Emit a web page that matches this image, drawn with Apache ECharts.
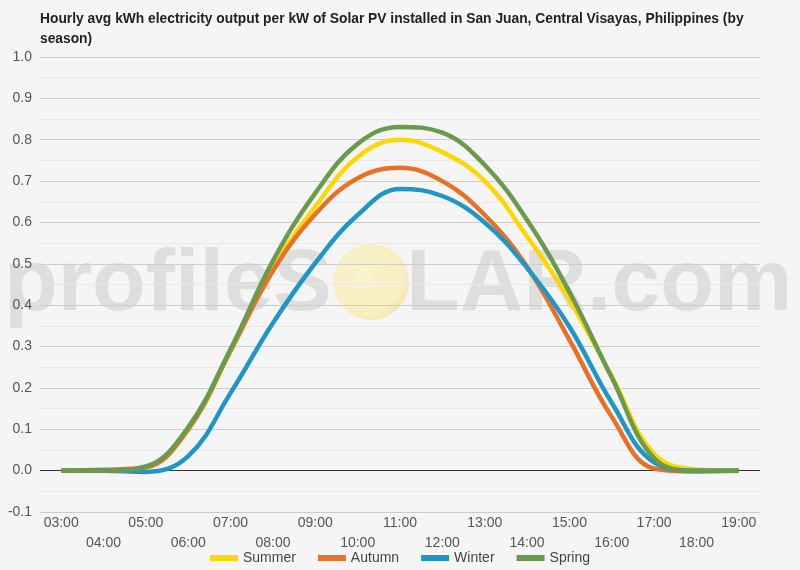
<!DOCTYPE html>
<html>
<head>
<meta charset="utf-8">
<script src="https://cdn.jsdelivr.net/npm/echarts@6/dist/echarts.min.js"></script>
<style>
  html, body { margin: 0; padding: 0; background: #f5f5f5; }
  #chart { width: 800px; height: 570px; }
</style>
</head>
<body>
<div id="chart"></div>
<script>
const hours = ['03:00', '04:00', '05:00', '06:00', '07:00', '08:00', '09:00', '10:00', '11:00',
  '12:00', '13:00', '14:00', '15:00', '16:00', '17:00', '18:00', '19:00']
const summer = [0, 0, 0.008, 0.1, 0.29, 0.49, 0.638, 0.758, 0.8, 0.77, 0.7, 0.566, 0.413, 0.228, 0.04, 0.003, 0]
const autumn = [0, 0.002, 0.008, 0.1, 0.29, 0.483, 0.62, 0.707, 0.732, 0.7, 0.618, 0.493, 0.316, 0.13, 0.005, -0.002, 0]
const winter = [0, 0, -0.003, 0.035, 0.188, 0.357, 0.502, 0.618, 0.681, 0.664, 0.6, 0.49, 0.348, 0.164, 0.02, 0, 0]
const spring = [0, 0, 0.01, 0.105, 0.294, 0.507, 0.671, 0.79, 0.831, 0.817, 0.739, 0.606, 0.432, 0.225, 0.03, 0, 0]
const yTicks = { min: -0.1, max: 1.0, interval: 0.1 }

const chart = echarts.init(document.getElementById('chart'))

const line = (name, data, color) => ({
  name,
  type: 'line',
  data,
  smooth: 0.4,
  symbol: 'none',
  lineStyle: { width: 4.5, color },
  itemStyle: { color }
})

const wmFont = 'bold 88px "Liberation Sans", Arial, sans-serif'

chart.setOption({
  backgroundColor: '#f5f5f5',
  textStyle: { fontFamily: '"Liberation Sans", Arial, sans-serif' },
  title: {
    text: 'Hourly avg kWh electricity output per kW of Solar PV installed in San Juan, Central Visayas, Philippines (by\nseason)',
    left: 35,
    top: 4,
    textStyle: { fontSize: 13.8, fontWeight: 'bold', color: '#222', lineHeight: 20 }
  },
  graphic: [
    {
      type: 'text', left: 4, top: 242, z: -10, silent: true,
      style: { text: 'profileS', font: wmFont, fill: '#dedede' }
    },
    {
      type: 'circle', z: -10, silent: true,
      shape: { cx: 371, cy: 282, r: 38 },
      style: {
        fill: new echarts.graphic.RadialGradient(0.4, 0.4, 0.7, [
          { offset: 0, color: '#f9f3cc' },
          { offset: 0.75, color: '#f8efc0' },
          { offset: 1, color: '#f5dcb0' }
        ])
      }
    },
    {
      type: 'text', left: 406, top: 242, z: -10, silent: true,
      style: { text: 'LAR.com', font: wmFont, fill: '#dedede' }
    }
  ],
  legend: {
    bottom: 5,
    left: 'center',
    padding: 0,
    itemWidth: 28,
    itemHeight: 6,
    itemGap: 22,
    icon: 'rect',
    textStyle: { fontSize: 14, color: '#444' },
    data: ['Summer', 'Autumn', 'Winter', 'Spring']
  },
  grid: { left: 40, right: 40, top: 57, bottom: 58, containLabel: false },
  xAxis: {
    type: 'category',
    data: hours,
    boundaryGap: true,
    axisLine: { show: false },
    axisTick: { show: false },
    axisLabel: {
      interval: 0,
      fontSize: 14,
      color: '#555',
      margin: 1,
      lineHeight: 20,
      formatter: (v, i) => (i % 2 === 1 ? '\n' + v : v)
    }
  },
  yAxis: {
    type: 'value',
    min: yTicks.min,
    max: yTicks.max,
    interval: yTicks.interval,
    axisLine: { show: false },
    axisTick: { show: false },
    axisLabel: { fontSize: 14, color: '#555', margin: 8, formatter: v => v.toFixed(1) },
    splitLine: { lineStyle: { color: '#cccccc' } },
    minorTick: { show: false, splitNumber: 2 },
    minorSplitLine: { show: true, lineStyle: { color: '#e8e8e8' } }
  },
  series: [
    line('Summer', summer, '#ffd600'),
    line('Autumn', autumn, '#e6722a'),
    line('Winter', winter, '#2196c4'),
    Object.assign(line('Spring', spring, '#6b9a4e'), {
      markLine: {
        silent: true,
        symbol: 'none',
        label: { show: false },
        lineStyle: { color: '#333', width: 1, type: 'solid' },
        data: [{ yAxis: 0 }],
        z: 1
      }
    })
  ]
})

window.addEventListener('resize', () => chart.resize())
</script>
</body>
</html>
